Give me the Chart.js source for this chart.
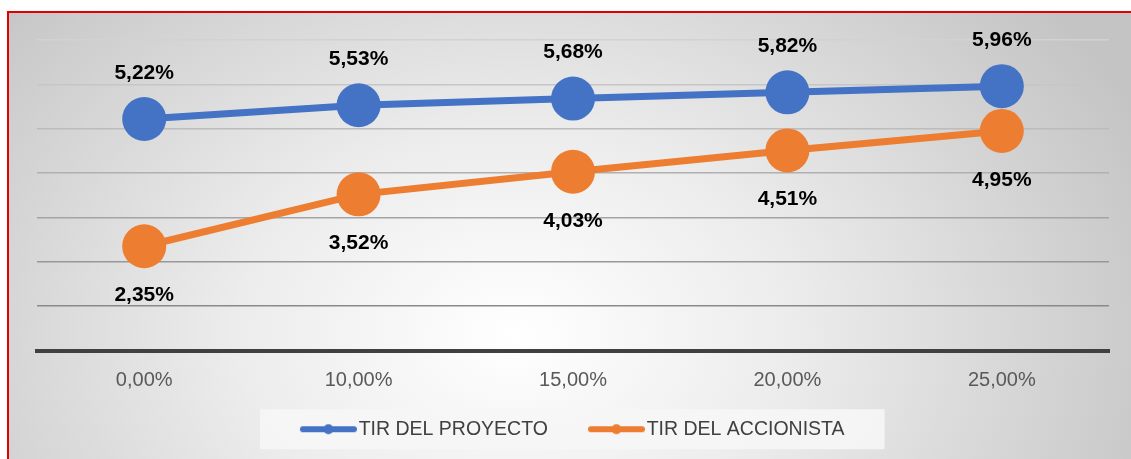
<!DOCTYPE html>
<html>
<head>
<meta charset="utf-8">
<script src="https://cdn.jsdelivr.net/npm/chart.js@4/dist/chart.umd.min.js"></script>
<style>
  html, body { margin: 0; padding: 0; background: #fff; }
  #frame {
    position: absolute; left: 7px; top: 11px; width: 1122px; height: 446px;
    border-left: 2px solid #e00000; border-top: 2px solid #e00000;
    background: radial-gradient(ellipse 62% 115% at 45% 72%, #ffffff 0%, #ececec 40%, #c4c4c4 100%);
  }
  #myChart { position: absolute; left: 0; top: 0; }
</style>
</head>
<body>
<div id="frame"></div>
<canvas id="myChart" width="1131" height="459"></canvas>
<script>
// data
var categories = ['0,00%', '10,00%', '15,00%', '20,00%', '25,00%'];
var tirProyecto = [5.22, 5.53, 5.68, 5.82, 5.96];
var tirAccionista = [2.35, 3.52, 4.03, 4.51, 4.95];
var seriesNames = ['TIR DEL PROYECTO', 'TIR DEL ACCIONISTA'];
var yTicks = [0, 1, 2, 3, 4, 5, 6, 7];

var blue = '#4472C4';
var orange = '#ED7D31';
var font = '"Liberation Sans", Arial, sans-serif';

// legend marker: line with a dot, drawn at the right side of a small canvas
function makeMarker(color) {
  var c = document.createElement('canvas');
  c.width = 96; c.height = 14;
  var g = c.getContext('2d');
  g.strokeStyle = color;
  g.lineWidth = 6;
  g.lineCap = 'round';
  g.beginPath();
  g.moveTo(c.width - 54, 7);
  g.lineTo(c.width - 3, 7);
  g.stroke();
  g.fillStyle = color;
  g.beginPath();
  g.arc(c.width - 28.5, 7, 5, 0, Math.PI * 2);
  g.fill();
  return c;
}
var markers = [makeMarker(blue), makeMarker(orange)];

function fmt(v) {
  return v.toFixed(2).replace('.', ',') + '%';
}

var gridColors = { 1: '#8a8a8a', 2: '#989898', 3: '#a4a4a4', 4: '#b0b0b0', 5: '#bcbcbc', 6: '#c6c6c6', 7: '#d2d2d2' };

// value labels above the blue points, below the orange ones
var valueLabels = {
  id: 'valueLabels',
  afterDatasetsDraw: function (chart) {
    var ctx = chart.ctx;
    ctx.save();
    ctx.font = 'bold 21px ' + font;
    ctx.fillStyle = '#000';
    ctx.textAlign = 'center';
    ctx.textBaseline = 'middle';
    chart.data.datasets.forEach(function (ds, di) {
      var meta = chart.getDatasetMeta(di);
      meta.data.forEach(function (pt, i) {
        var off = di === 0 ? -46 : 49;
        ctx.fillText(fmt(ds.data[i]), pt.x, pt.y + off);
      });
    });
    ctx.restore();
  }
};

// light box behind the legend
var legendBox = {
  id: 'legendBox',
  beforeDraw: function (chart) {
    var hb = chart.legend && chart.legend.legendHitBoxes;
    if (!hb || !hb.length) return;
    var first = hb[0], last = hb[hb.length - 1];
    var left = first.left + 31 - 40;
    var right = last.left + last.width + 40;
    var cy = first.top + first.height / 2;
    var ctx = chart.ctx;
    ctx.save();
    ctx.fillStyle = 'rgba(246,246,246,0.9)';
    ctx.fillRect(left, cy - 20, right - left, 40);
    ctx.restore();
  }
};

new Chart(document.getElementById('myChart'), {
  type: 'line',
  data: {
    labels: categories,
    datasets: [
      {
        label: seriesNames[0],
        data: tirProyecto,
        borderColor: blue,
        backgroundColor: blue,
        borderWidth: 7,
        pointRadius: 22,
        pointHoverRadius: 22,
        pointBorderWidth: 0,
        tension: 0
      },
      {
        label: seriesNames[1],
        data: tirAccionista,
        borderColor: orange,
        backgroundColor: orange,
        borderWidth: 7,
        pointRadius: 22,
        pointHoverRadius: 22,
        pointBorderWidth: 0,
        tension: 0
      }
    ]
  },
  options: {
    responsive: false,
    animation: false,
    layout: { padding: { left: 1.5, right: 19, top: 40, bottom: 10 } },
    scales: {
      x: {
        offset: true,
        grid: { display: false, drawTicks: false },
        border: { display: true, color: '#404040', width: 4 },
        ticks: { color: '#595959', font: { family: font, size: 20 }, padding: 18 }
      },
      y: {
        min: yTicks[0],
        max: yTicks[yTicks.length - 1],
        afterBuildTicks: function (scale) {
          scale.ticks = yTicks.map(function (v) { return { value: v }; });
        },
        afterFit: function (scale) { scale.width = 35.5; },
        ticks: { display: false },
        border: { display: false },
        grid: {
          drawTicks: false,
          lineWidth: 1.5,
          color: function (c) {
            return c.tick && gridColors[c.tick.value] ? gridColors[c.tick.value] : 'rgba(0,0,0,0)';
          }
        }
      }
    },
    plugins: {
      tooltip: { enabled: false },
      legend: {
        position: 'bottom',
        labels: {
          usePointStyle: true,
          pointStyleWidth: 80,
          padding: 9,
          color: '#404040',
          font: { family: font, size: 19.5 },
          generateLabels: function (chart) {
            var items = Chart.defaults.plugins.legend.labels.generateLabels(chart);
            items.forEach(function (it, i) { it.pointStyle = markers[i]; });
            return items;
          }
        }
      }
    }
  },
  plugins: [legendBox, valueLabels]
});
</script>
</body>
</html>
